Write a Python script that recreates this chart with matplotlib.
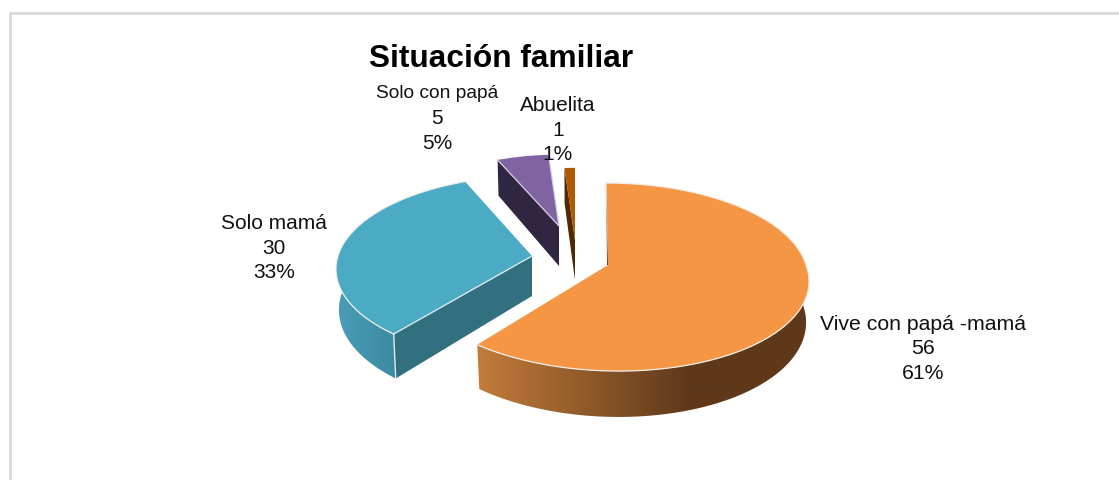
import numpy as np
import matplotlib
matplotlib.use('Agg')
import matplotlib.pyplot as plt
from matplotlib.patches import Polygon
from matplotlib.colors import to_rgb

plt.rcParams['font.family'] = ['Liberation Sans', 'DejaVu Sans']

title = 'Situación familiar'
categories = ['Vive con papá -mamá', 'Solo mamá', 'Solo con papá', 'Abuelita']
values = [56, 30, 5, 1]

# slice styles, in pixels of the picture
tips = [(608, 265), (532, 256), (559, 226), (575, 240)]
scales = [1.0, 0.98, 0.87, 0.88]
shear_front = [0.1, -0.03, 0.0, 0.0]
shear_back = [0.02, -0.03, 0.0, 0.0]
tops = ['#f59644', '#4babc5', '#8064a2', '#b15a04']
inner = ['#5c3517', '#33707f', '#312642', '#4f2a00']
side_from = ['#c27c3a', '#4a9cb4']
side_to = ['#5f381a', '#3a8aa2']
side_span = [(478, 690), (338, 395)]
label_pos = [(923, 349), (274, 248), (437, 131), (558, 130)]
label_size = [15.3, 15, 15, 15]

rx, ry, persp, depth, shrink = 198, 92.5, 0.128, 40, 0.985

fig = plt.figure(figsize=(11.19, 4.8), dpi=100)
ax = fig.add_axes([0, 0, 1, 1])
ax.set_xlim(0, 1119)
ax.set_ylim(480, 0)
ax.axis('off')


def project(ang, i, bottom=False):
    # ang is clockwise from 12 o'clock, in degrees
    a = np.radians(ang)
    xx, yy = np.sin(a), np.cos(a)
    d = 1 + persp * yy
    k = scales[i] * (shrink if bottom else 1)
    px = xx * rx * k / d
    py = -yy * ry * scales[i] / d
    out_x = tips[i][0] + px + np.where(py > 0, shear_front[i], shear_back[i]) * py
    out_y = tips[i][1] + py + (depth / d if bottom else 0)
    return out_x, out_y


def tip(i, bottom=False):
    return tips[i][0], tips[i][1] + (depth if bottom else 0)


# chart frame: top and left only, the rest is cut off
ax.plot([10, 10, 1119], [480, 13, 13], color='#d9d9d9', lw=2, zorder=1)

total = sum(values)
starts = np.cumsum([0] + values[:-1]) / total * 360
ends = np.cumsum(values) / total * 360

for i in [2, 3, 1, 0]:
    t = np.linspace(starts[i], ends[i], 200)
    tx, ty = project(t, i)
    bx, by = project(t, i, bottom=True)

    # flat faces seen through the exploded gaps
    if i == 0:
        ax.fill([tip(i)[0], tx[0], tx[0], tip(i)[0] - 1], [tip(i)[1], ty[0] + 8, ty[0] + 12, tip(i)[1]],
                color=inner[i], lw=0, zorder=3)
    else:
        ax.fill([tip(i)[0], tx[0], bx[0], tip(i, True)[0]], [tip(i)[1], ty[0], by[0], tip(i, True)[1]],
                color=inner[i], lw=0, zorder=3)

    # curved outer wall, only the part that faces the viewer
    if i in (0, 1):
        keep = t < 312 if i == 1 else np.cos(np.radians(t)) < 0.3
        xs = np.r_[tx[keep], bx[keep][::-1]]
        ys = np.r_[ty[keep], by[keep][::-1]]
        c1, c2 = np.array(to_rgb(side_from[i])), np.array(to_rgb(side_to[i]))
        f = np.clip((np.arange(0, 1119) - side_span[i][0]) / (side_span[i][1] - side_span[i][0]), 0, 1)
        grad = (c1 + (c2 - c1) * f[:, None])[None, :, :]
        im = ax.imshow(grad, extent=(0, 1119, 480, 0), aspect='auto', zorder=3, interpolation='bilinear')
        im.set_clip_path(Polygon(np.c_[xs, ys], closed=True, transform=ax.transData))
        if i == 1:
            ax.plot([tx[0], bx[0]], [ty[0], by[0]], color='#dfe9ec', lw=1, zorder=4)

    # top face
    ax.fill(np.r_[tip(i)[0], tx], np.r_[tip(i)[1], ty], facecolor=tops[i], edgecolor='none', zorder=4)
    if i in (0, 1):
        ax.plot(tx, ty, color='#f2efe9', lw=0.9, zorder=5)
    if i == 1:
        ax.plot([tip(i)[0], tx[0]], [tip(i)[1], ty[0]], color='#e4eef1', lw=0.9, zorder=5)
    if i == 2:
        ax.plot([tx[-1], tip(i)[0], tx[0]], [ty[-1], tip(i)[1], ty[0]], color='#d5cfe0', lw=0.9, zorder=5)

ax.set_xlim(0, 1119)
ax.set_ylim(480, 0)

ax.text(501, 59, title, fontsize=22.8, fontweight='bold', color='black', ha='center', va='center', zorder=6)

for i, cat in enumerate(categories):
    pct = round(values[i] / total * 100)
    if i == 2:
        # this name is set narrower than the others
        ax.text(437, 93, cat, fontsize=13.8, color='#111111', ha='center', va='center', zorder=6)
        txt = f'{values[i]}\n{pct}%'
    else:
        txt = f'{cat}\n{values[i]}\n{pct}%'
    ax.text(label_pos[i][0], label_pos[i][1], txt, fontsize=label_size[i], color='#111111',
            ha='center', va='center', linespacing=1.36, zorder=6)

fig.savefig('out.png', dpi=100, facecolor='white')
